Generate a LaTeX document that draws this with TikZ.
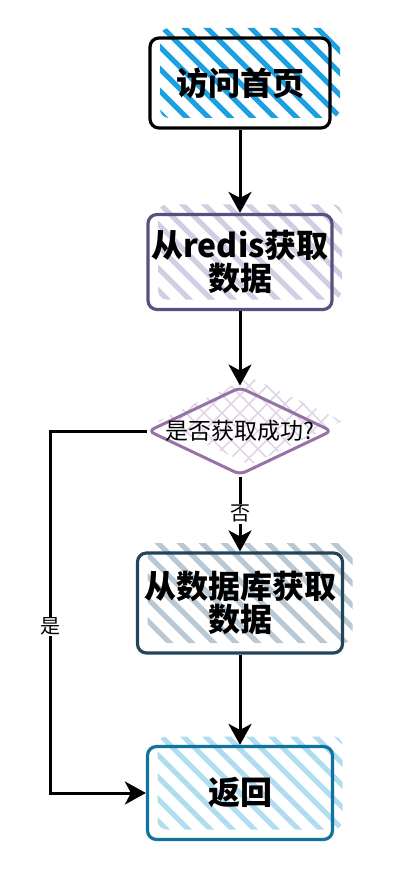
\documentclass[tikz,border=0pt]{standalone}
\usepackage{fontspec}
\setmainfont{Noto Sans CJK SC}
\usetikzlibrary{arrows.meta, positioning, shapes.geometric, calc}

\definecolor{visitfill}{HTML}{1BA1E2}
\definecolor{redisline}{HTML}{56517E}
\definecolor{redisfill}{HTML}{D0CEE2}
\definecolor{checkline}{HTML}{9673A6}
\definecolor{checkfill}{HTML}{E1D5E7}
\definecolor{dbline}{HTML}{23445D}
\definecolor{dbfill}{HTML}{BAC8D3}
\definecolor{retline}{HTML}{10739E}
\definecolor{retfill}{HTML}{B1DDF0}

\tikzset{
  stepbox/.style={draw, rounded corners=9pt, line width=3.2pt, align=center,
    font=\bfseries\fontsize{32}{33}\selectfont},
  flow/.style={-{Stealth[length=21pt, width=23pt, inset=6pt]}, line width=3pt},
  edgelabel/.style={fill=white, inner sep=1pt, font=\fontsize{20}{23}\selectfont},
}

% striped fill (centre x, centre y, width, height, colour), shifted up and right
\newcommand{\stripes}[5]{%
  \begin{scope}
    \clip[rounded corners=9pt] (#1-#3/2+10, #2-#4/2-10) rectangle (#1+#3/2+10, #2+#4/2-10);
    \foreach \k in {-10,...,10}
      \draw[#5, line width=5pt, line cap=round] (#1+\k*22-130, #2-130) -- ++(260,260);
  \end{scope}}

\begin{document}
\begin{tikzpicture}[x=1pt, y=-1pt]
  \useasboundingbox (0,0) rectangle (414,882);

  % Fills
  \stripes{240}{83}{180}{90}{visitfill}
  \stripes{240}{262}{184}{95}{redisfill}
  \stripes{240}{603}{205}{100}{dbfill}
  \stripes{240}{793}{185}{93}{retfill}
  \begin{scope}
    \clip (250,377) -- (342,421) -- (250,465) -- (158,421) -- cycle;
    \foreach \k in {-12,...,12} {
      \draw[checkfill, line width=1.5pt] (240+\k*18-130, 431-130) -- ++(260,260);
      \draw[checkfill, line width=1.5pt] (240+\k*18+130, 431-130) -- ++(-260,260);
    }
  \end{scope}

  % Boxes
  \node[stepbox, minimum width=180pt, minimum height=90pt] (visit) at (240,83) {访问首页};
  \node[stepbox, draw=redisline, minimum width=184pt, minimum height=95pt] (redis) at (240,262) {从redis获取\\数据};
  \node[diamond, draw=checkline, line width=3pt, rounded corners=6pt, inner sep=0pt,
        minimum width=184pt, minimum height=88pt,
        label={[font=\fontsize{23}{26}\selectfont]center:是否获取成功?}] (check) at (240,431) {};
  \node[stepbox, draw=dbline, minimum width=205pt, minimum height=100pt] (db) at (240,603) {从数据库获取\\数据};
  \node[stepbox, draw=retline, minimum width=185pt, minimum height=93pt] (ret) at (240,793) {返回};

  % Connectors
  \draw[flow] (visit) -- (redis);
  \draw[flow] (redis) -- (check);
  \draw[flow] (check) -- node[edgelabel] {否} (db);
  \draw[flow] (db) -- (ret);
  \draw[flow] (check.west) -- ++(-96,0) |- node[edgelabel, pos=0.27] {是} (ret.west);
\end{tikzpicture}
\end{document}
